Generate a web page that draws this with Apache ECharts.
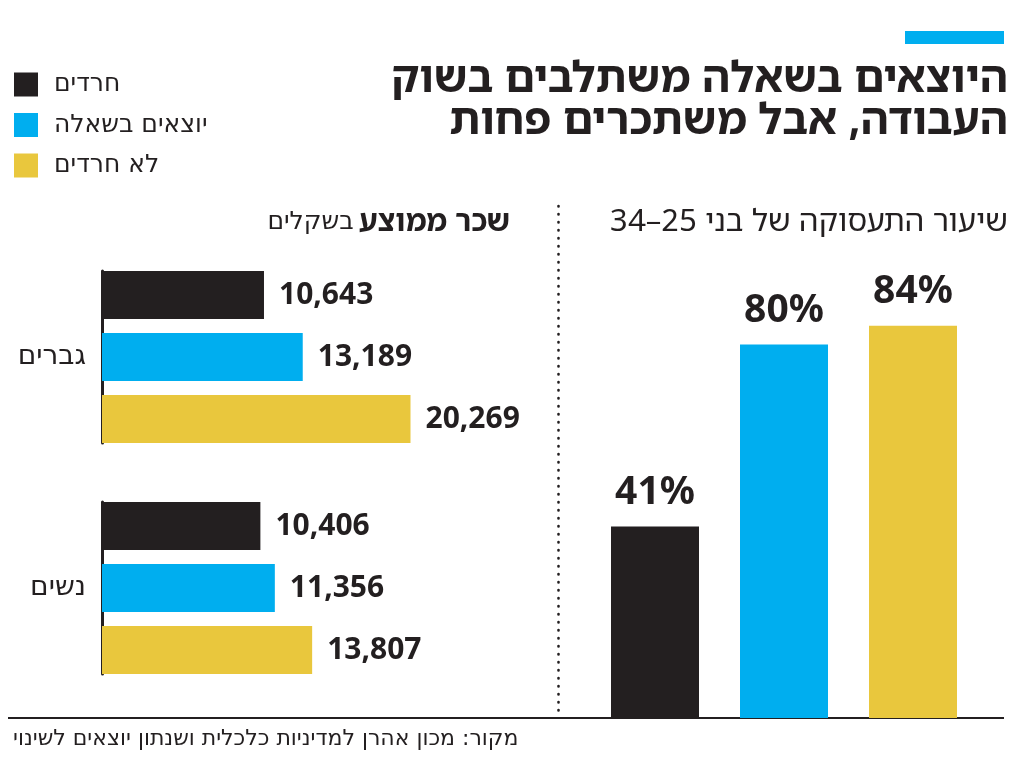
<!DOCTYPE html>
<html>
<head>
<meta charset="utf-8">
<script src="https://cdn.jsdelivr.net/npm/echarts@6/dist/echarts.min.js"></script>
<style>
  html, body { margin: 0; padding: 0; background: #fff; }
  #chart { width: 1024px; height: 759px; }
</style>
</head>
<body>
<div id="chart" dir="rtl"></div>
<script>
  // data
  const groups = ['חרדים', 'יוצאים בשאלה', 'לא חרדים'];
  const genders = ['גברים', 'נשים'];
  const wageMen = [10643, 13189, 20269];
  const wageWomen = [10406, 11356, 13807];
  const employment = [41, 80, 84];

  const colors = ['#231f20', '#00aeef', '#e9c73d'];
  const ink = '#231f20';
  // condensed faces if the installed fonts have them, DejaVu otherwise
  const hebBold = "'Noto Sans Hebrew', 'Open Sans', 'DejaVu Sans Condensed', sans-serif";
  const heb = "'DejaVu Sans', sans-serif";
  const num = "'Noto Sans', 'Open Sans', 'DejaVu Sans Condensed', sans-serif";

  const chart = echarts.init(document.getElementById('chart'));

  const fmt = v => v.toLocaleString('en-US');

  const series = [];
  groups.forEach((g, i) => {
    [wageMen, wageWomen].forEach((arr, k) => {
      series.push({
        name: g,
        type: 'bar',
        xAxisIndex: k,
        yAxisIndex: k,
        data: [arr[i]],
        barWidth: 48,
        barGap: '29.17%',
        barCategoryGap: '0%',
        itemStyle: { color: colors[i] },
        label: {
          show: true, position: 'right', distance: 15,
          formatter: p => fmt(p.value),
          fontFamily: num, fontWeight: 'bold condensed', fontSize: 30, color: ink
        }
      });
    });
    series.push({
      name: g,
      type: 'bar',
      xAxisIndex: 2,
      yAxisIndex: 2,
      data: employment.map((v, j) => (j === i ? v : '-')),
      barWidth: 88,
      barGap: '-100%',
      itemStyle: { color: colors[i] },
      label: {
        show: true, position: 'top', distance: 14,
        formatter: '{c}%',
        fontFamily: num, fontWeight: 'bold condensed', fontSize: 39, color: ink
      }
    });
  });

  const wageX = {
    type: 'value', min: 0, max: 25000, show: false
  };
  const genderY = (idx) => ({
    type: 'category', gridIndex: idx, data: [genders[idx]],
    axisLine: { show: true, lineStyle: { color: ink, width: 3 } },
    axisTick: { show: false },
    axisLabel: { fontFamily: heb, fontSize: 28, color: ink, margin: 16 }
  });

  const option = {
    animation: false,
    backgroundColor: '#fff',
    title: [
      {
        text: 'היוצאים בשאלה משתלבים בשוק\nהעבודה, אבל משתכרים פחות',
        left: 1003, top: 54, textAlign: 'right',
        textStyle: { fontFamily: hebBold, fontWeight: 'bold condensed', fontSize: 43, lineHeight: 42, color: ink }
      },
      {
        text: '{r|בשקלים} {b|שכר ממוצע}',
        left: 505, top: 202, textAlign: 'right',
        textStyle: {
          rich: {
            r: { fontFamily: heb, fontWeight: 'normal', fontSize: 25, color: ink },
            b: { fontFamily: hebBold, fontWeight: 'bold condensed', fontSize: 30, color: ink }
          }
        }
      },
      {
        text: 'שיעור התעסוקה של בני 25–34',
        left: 1003, top: 202, textAlign: 'right',
        textStyle: { fontFamily: hebBold, fontSize: 31, fontWeight: 'normal condensed', color: ink }
      },
      {
        text: 'מקור: מכון אהרן למדיניות כלכלית ושנתון יוצאים לשינוי',
        left: 8, top: 723,
        textStyle: { fontFamily: heb, fontSize: 22, fontWeight: 'normal', color: ink }
      }
    ],
    legend: {
      data: groups,
      orient: 'vertical',
      left: 9, top: 67,
      icon: 'rect',
      itemWidth: 24, itemHeight: 24, itemGap: 15.5,
      selectedMode: false,
      textStyle: { fontFamily: heb, fontSize: 25, color: ink, padding: [0, 0, 0, 11] }
    },
    grid: [
      { left: 102, top: 271, width: 380.5, height: 172 },
      { left: 102, top: 502, width: 380.5, height: 172 },
      { left: 590.5, top: 251, width: 387, height: 467 }
    ],
    xAxis: [
      Object.assign({ gridIndex: 0 }, wageX),
      Object.assign({ gridIndex: 1 }, wageX),
      {
        type: 'category', gridIndex: 2, data: groups,
        axisLine: { show: false }, axisTick: { show: false }, axisLabel: { show: false }
      }
    ],
    yAxis: [
      genderY(0),
      genderY(1),
      { type: 'value', gridIndex: 2, min: 0, max: 100, show: false }
    ],
    series: series,
    graphic: [
      { type: 'rect', shape: { x: 905, y: 31, width: 99, height: 13 }, style: { fill: '#00aeef' } },
      {
        type: 'line', shape: { x1: 558.5, y1: 206, x2: 558.5, y2: 716 },
        style: { stroke: ink, lineWidth: 2.6, lineDash: [0.5, 7.5], lineCap: 'round' }
      },
      {
        type: 'line', shape: { x1: 8, y1: 718, x2: 1004, y2: 718 },
        style: { stroke: ink, lineWidth: 2 }
      }
    ]
  };

  chart.setOption(option);
</script>
</body>
</html>
